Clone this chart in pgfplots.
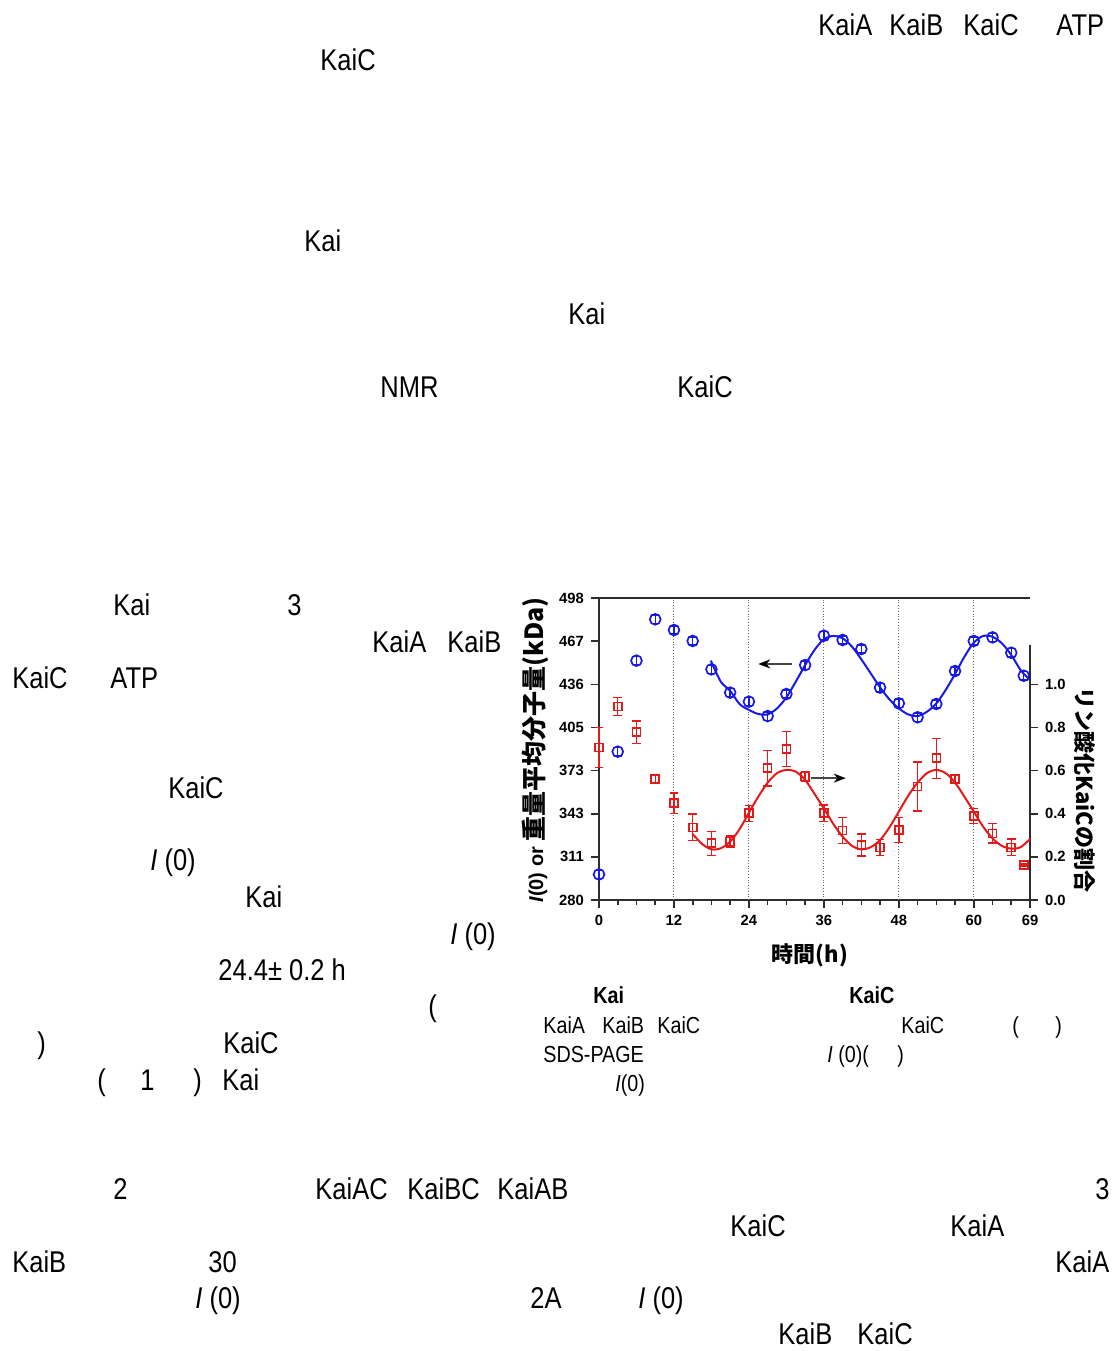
\documentclass[border=0pt]{standalone}
\usepackage{fontspec}
\setmainfont{Liberation Sans}[FakeStretch=0.85]
\newfontfamily\arial{Liberation Sans}
\newfontfamily\cjk{Noto Sans CJK JP}
\usepackage{pgfplots}
\pgfplotsset{compat=1.18}
\usetikzlibrary{arrows.meta}

\definecolor{kaiblue}{RGB}{25,25,230}
\definecolor{kaired}{RGB}{228,25,25}
\definecolor{axisgray}{RGB}{45,45,45}

\newcommand{\body}{\fontsize{15}{18}\selectfont}
\newcommand{\capt}{\fontsize{11.6}{14}\selectfont}

% mass (kDa), left axis
\pgfplotstableread{
t  m      e
0  298.5  3
3  387.1  3
6  452.8  3
9  482.6  3
12 474.9  3
15 467.0  3
18 446.5  3
21 429.7  3
24 423.2  3
27 412.8  3
30 428.7  3
33 449.6  3
36 470.8  3
39 467.7  3
42 461.2  3
45 433.3  3
48 422.0  3
51 411.9  3
54 421.5  3
57 445.3  3
60 467.0  3
63 469.6  3
66 458.5  3
68 441.9  3
}\masstab

\pgfplotstableread{
t    m
17.9 452.8
19.5 437.6
21   431.0
22.5 421.5
24   417.2
25.5 414.3
27   414.0
28.5 418.3
30   426.3
31.5 437.6
33   449.6
34.5 460.5
36   468.2
37.5 470.6
39   468.9
40.5 462.9
42   453.7
43.5 443.6
45   433.5
46.5 424.8
48   418.3
49.5 414.0
51   412.8
52.5 415.9
54   421.9
55.5 431.6
57   443.2
58.5 455.6
60   465.7
61.5 470.6
63   470.0
64.5 465.3
66   456.9
67.5 446.0
69   438.8
}\massfit

% phosphorylated fraction, right axis
\pgfplotstableread{
t  p      e
0  0.707  0.093
3  0.897  0.042
6  0.778  0.052
9  0.560  0.021
12 0.449  0.048
15 0.337  0.062
18 0.263  0.056
21 0.271  0.025
24 0.402  0.037
27 0.611  0.083
30 0.699  0.081
33 0.572  0.023
36 0.402  0.039
39 0.322  0.060
42 0.255  0.051
45 0.244  0.037
48 0.325  0.058
51 0.526  0.114
54 0.657  0.093
57 0.561  0.015
60 0.390  0.035
63 0.309  0.045
66 0.244  0.039
68 0.162  0.005
}\phostab

\pgfplotstableread{
t    p
15   0.306
16.5 0.260
18   0.235
19.5 0.240
21   0.271
22.5 0.328
24   0.405
25.5 0.479
27   0.544
28.5 0.588
30   0.603
31.5 0.595
33   0.557
34.5 0.492
36   0.425
37.5 0.353
39   0.294
40.5 0.251
42   0.235
43.5 0.245
45   0.278
46.5 0.337
48   0.410
49.5 0.483
51   0.544
52.5 0.588
54   0.603
55.5 0.588
57   0.544
58.5 0.479
60   0.410
61.5 0.340
63   0.286
64.5 0.251
66   0.238
67.5 0.245
69   0.283
}\phosfit

\pgfplotsset{
  kaiaxis/.style={
    at={(299.5pt,-450pt)}, anchor=south west,
    scale only axis, width=215.5pt, height=151pt,
    xmin=0, xmax=69,
    tick align=outside,
    major tick length=4pt, minor tick length=2.5pt,
    tick style={axisgray, line width=0.8pt},
    tick label style={font=\fontsize{7.4}{8}\selectfont\arial\bfseries},
    /pgf/number format/assume math mode=true,
    clip=false,
  }
}

\begin{document}
\begin{tikzpicture}
\path (0,0) rectangle (559pt,-675.5pt);

\begin{axis}[kaiaxis,
  ymin=280, ymax=498,
  axis x line*=bottom, axis y line*=left,
  axis line style={axisgray, line width=1pt},
  xtick={0,12,24,36,48,60,69},
  minor xtick={3,6,9,15,18,21,27,30,33,39,42,45,51,54,57,63,66},
  ytick={280,311.14,342.29,373.43,404.57,435.71,466.86,498},
  yticklabels={280,311,343,373,405,436,467,498},
  extra x ticks={12,24,36,48,60},
  extra x tick labels={},
  extra x tick style={grid=major, major tick length=0pt,
    major grid style={densely dotted, gray!80!black, line width=0.5pt}},
]
\draw[axisgray, line width=1pt] (rel axis cs:0,1) -- (rel axis cs:1,1);
\addplot[kaiblue, line width=1pt, smooth] table[x=t, y=m] {\massfit};
\addplot[kaiblue, only marks, mark=o, mark size=2.7pt,
  mark options={line width=0.85pt},
  error bars/.cd, y dir=both, y explicit,
  error bar style={line width=0.7pt},
  error mark options={rotate=90, mark size=2pt, line width=0.7pt}]
  table[x=t, y=m, y error=e] {\masstab};
\draw[gray!55!black, line width=0.9pt, -{Stealth[length=6pt, width=4.5pt, black]}]
  (axis cs:30.85,450.4) -- (axis cs:25.5,450.4);
\end{axis}

\begin{axis}[kaiaxis,
  ymin=0, ymax=1.4,
  axis x line=none, axis y line*=right,
  y axis line style={draw=none},
  ytick={0,0.2,0.4,0.6,0.8,1.0},
  yticklabel style={/pgf/number format/.cd, fixed, fixed zerofill, precision=1},
]
\draw[axisgray, line width=1pt] (axis cs:69,0) -- (axis cs:69,1.18);
\addplot[kaired, line width=1pt, smooth] table[x=t, y=p] {\phosfit};
\addplot[kaired, only marks, mark=square, mark size=2pt,
  mark options={line width=0.8pt},
  error bars/.cd, y dir=both, y explicit,
  error bar style={line width=0.7pt},
  error mark options={rotate=90, mark size=2.2pt, line width=0.7pt}]
  table[x=t, y=p, y error=e] {\phostab};
\draw[gray!55!black, line width=0.9pt, -{Stealth[length=6pt, width=4.5pt, black]}]
  (axis cs:33.9,0.565) -- (axis cs:39.5,0.565);
\end{axis}

\begin{scope}[x=0.5pt, y=-0.5pt]
% chart labels
\node[rotate=90, anchor=center, inner sep=0pt] at (535,750)
  {{\fontsize{10}{12}\selectfont\arial\bfseries\textit{I}(0) or }{\cjk\bfseries\fontsize{12.5}{14}\selectfont 重量平均分子量(kDa)}};
\node[rotate=-90, anchor=center, inner sep=0pt] at (1085,790)
  {\cjk\bfseries\fontsize{11}{13}\selectfont リン酸化KaiCの割合};
\node[anchor=center, inner sep=0pt] at (810,955)
  {\cjk\bfseries\fontsize{11}{13}\selectfont 時間(h)};
\end{scope}

\begin{scope}[x=0.5pt, y=-0.5pt, every node/.style={anchor=base west, inner sep=0pt, font=\body}]
\node at (818,35) {KaiA};
\node at (889,35) {KaiB};
\node at (963,35) {KaiC};
\node at (1056,35) {ATP};
\node at (320,70) {KaiC};
\node at (304,251) {Kai};
\node at (568,324) {Kai};
\node at (380,397) {NMR};
\node at (677,397) {KaiC};
\node at (113,615) {Kai};
\node at (287,615) {3};
\node at (372,652) {KaiA};
\node at (447,652) {KaiB};
\node at (12,688) {KaiC};
\node at (110,688) {ATP};
\node at (168,798) {KaiC};
\node at (150,870) {\textit{I} (0)};
\node at (245,907) {Kai};
\node at (450,944) {\textit{I} (0)};
\node at (218,980) {24.4± 0.2 h};
\node at (428,1016) {(};
\node at (37,1053) {)};
\node at (223,1053) {KaiC};
\node at (97,1090) {(};
\node at (140,1090) {1};
\node at (193,1090) {)};
\node at (222,1090) {Kai};
\node at (113,1199) {2};
\node at (315,1199) {KaiAC};
\node at (407,1199) {KaiBC};
\node at (497,1199) {KaiAB};
\node at (1095,1199) {3};
\node at (730,1236) {KaiC};
\node at (950,1236) {KaiA};
\node at (12,1272) {KaiB};
\node at (208,1272) {30};
\node at (1055,1272) {KaiA};
\node at (195,1308) {\textit{I} (0)};
\node at (530,1308) {2A};
\node at (638,1308) {\textit{I} (0)};
\node at (778,1344) {KaiB};
\node at (857,1344) {KaiC};
% caption
\node[font=\capt\bfseries] at (593,1003) {Kai};
\node[font=\capt\bfseries] at (849,1003) {KaiC};
\node[font=\capt] at (543,1033) {KaiA};
\node[font=\capt] at (602,1033) {KaiB};
\node[font=\capt] at (657,1033) {KaiC};
\node[font=\capt] at (901,1033) {KaiC};
\node[font=\capt] at (1012,1033) {(};
\node[font=\capt] at (1055,1033) {)};
\node[font=\capt] at (543,1062) {SDS-PAGE};
\node[font=\capt] at (827,1062) {\textit{I} (0)(};
\node[font=\capt] at (897,1062) {)};
\node[font=\capt] at (615,1091) {\textit{I}(0)};
\end{scope}
\end{tikzpicture}
\end{document}
